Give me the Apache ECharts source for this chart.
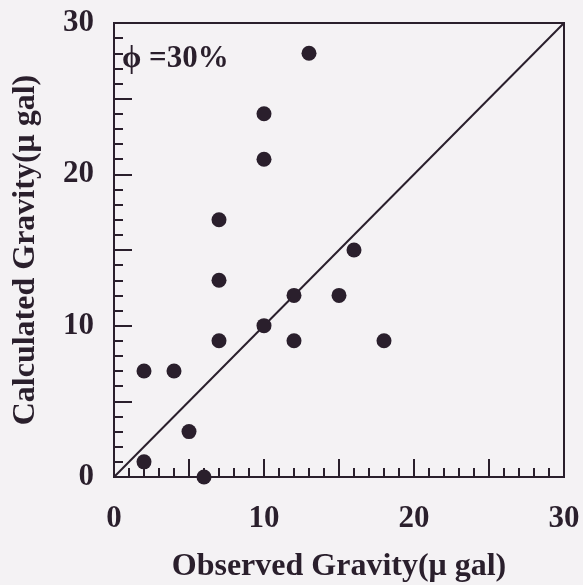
<!DOCTYPE html>
<html>
<head>
<meta charset="utf-8">
<script src="https://cdn.jsdelivr.net/npm/echarts@6/dist/echarts.min.js"></script>
<style>
  html, body { margin: 0; padding: 0; background: #f4f2f4; }
  #chart { width: 583px; height: 585px; }
</style>
</head>
<body>
<div id="chart"></div>
<script>
// Observed vs. calculated gravity (µgal), porosity 30%
const observed   = [2, 6, 5, 2, 4, 7, 10, 12, 12, 15, 16, 18, 7, 7, 10, 10, 13];
const calculated = [1, 0, 3, 7, 7, 9, 10, 9, 12, 12, 15, 9, 13, 17, 21, 24, 28];
const axisMin = 0;
const axisMax = 30;
const labelValues = [0, 10, 20, 30];
const annotation = 'ϕ =30%';

const ink = '#2a1f2c';
const serif = '"Liberation Serif", "DejaVu Serif", serif';

const points = observed.map((x, i) => [x, calculated[i]]);

const chart = echarts.init(document.getElementById('chart'), null, { renderer: 'canvas' });

function axisCommon(name, isY) {
  return {
    type: 'value',
    min: axisMin,
    max: axisMax,
    interval: 5,
    name: name,
    nameLocation: 'middle',
    nameGap: isY ? 72 : 74,
    nameRotate: isY ? 90 : 0,
    nameTextStyle: { fontFamily: serif, fontWeight: 'bold', fontSize: 32, color: ink },
    axisLine: { show: true, lineStyle: { color: ink, width: 2 } },
    axisTick: { show: true, inside: true, length: 18, lineStyle: { color: ink, width: 2 } },
    minorTick: { show: true, splitNumber: 5, length: 9, lineStyle: { color: ink, width: 2 } },
    splitLine: { show: false },
    minorSplitLine: { show: false },
    axisLabel: {
      margin: isY ? 20 : 26,
      fontFamily: serif, fontWeight: 'bold', fontSize: 31, color: ink,
      formatter: v => (labelValues.indexOf(v) >= 0 ? String(v) : '')
    }
  };
}

chart.setOption({
  backgroundColor: '#f4f2f4',
  animation: false,
  grid: {
    left: 114, right: 19, top: 23, bottom: 108,
    outerBoundsMode: 'none',
    containLabel: false,
    show: true, borderColor: ink, borderWidth: 2, backgroundColor: 'transparent'
  },
  xAxis: axisCommon('Observed Gravity(μ gal)', false),
  yAxis: axisCommon('Calculated Gravity(μ gal)', true),
  graphic: [{
    type: 'text',
    left: 122, top: 43,
    style: { text: annotation, font: 'bold 31px ' + serif, fill: ink }
  }],
  series: [
    {
      type: 'line',
      data: [[axisMin, axisMin], [axisMax, axisMax]],
      showSymbol: false,
      lineStyle: { color: ink, width: 2 },
      silent: true
    },
    {
      type: 'scatter',
      data: points,
      symbol: 'circle',
      symbolSize: 15,
      itemStyle: { color: ink, opacity: 1 }
    }
  ]
});
</script>
</body>
</html>
